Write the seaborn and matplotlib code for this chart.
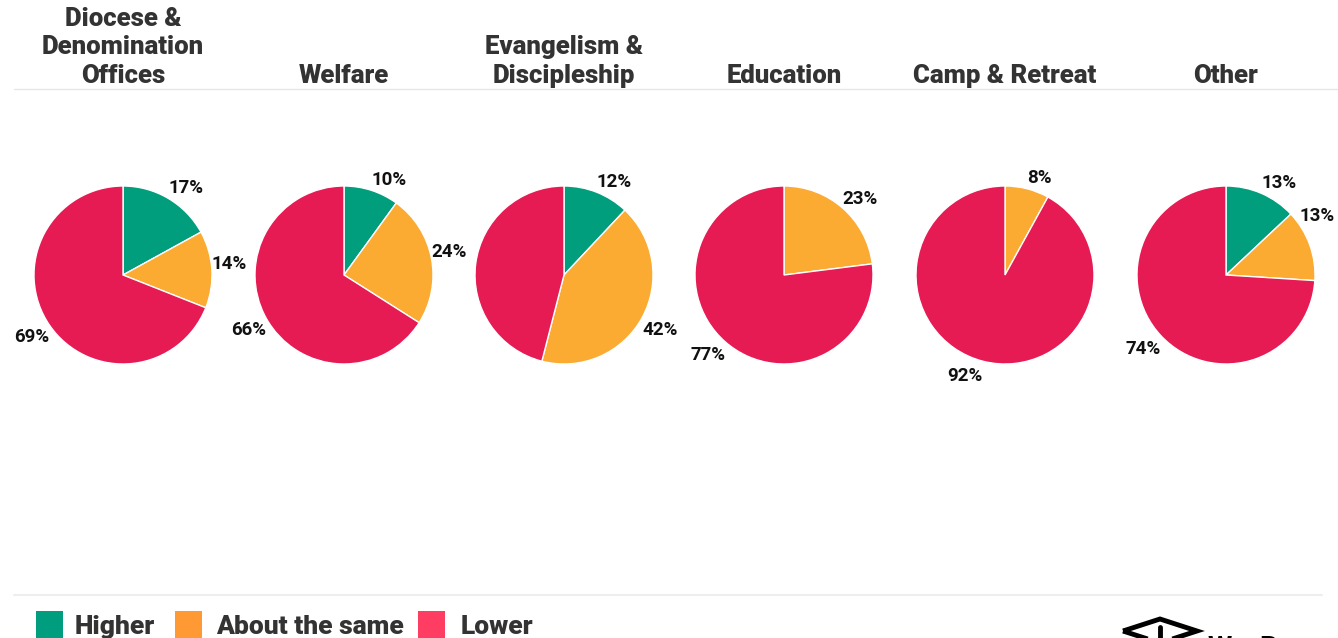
import numpy as np
import matplotlib.pyplot as plt
import matplotlib.patches as mpatches
from matplotlib.lines import Line2D
import seaborn as sns

# data
categories = ["Diocese &\nDenomination\nOffices", "Welfare", "Evangelism &\nDiscipleship",
              "Education", "Camp & Retreat", "Other"]
series = ["Higher", "About the same", "Lower"]
higher = [17, 10, 12, 0, 0, 13]
same = [14, 24, 42, 23, 8, 13]
lower = [69, 66, 46, 77, 92, 74]
# label that is not printed in the original (collides with neighbour)
hidden_labels = [("Evangelism &\nDiscipleship", "Lower")]

pie_colors = sns.color_palette(["#009E7C", "#FBAA32", "#E61B53"])
legend_colors = sns.color_palette(["#009E7E", "#FF9933", "#FF3D62"])

sns.set_theme(style="white")
plt.rcParams['font.family'] = ['Roboto', 'DejaVu Sans']

W, H = 1338, 638
fig = plt.figure(figsize=(W / 100, H / 100), dpi=100)
fig.patch.set_facecolor("white")
renderer = fig.canvas.get_renderer()


def px(x, y):
    return x / W, 1 - y / H


centers_x = [123, 344, 564, 784, 1005, 1226]
center_y = 275
radius_px = 89
half = 110
label_rx, label_ry = 89, 95  # anchor distance of the labels, pixels

for i, cat in enumerate(categories):
    cx = centers_x[i]
    ax = fig.add_axes([(cx - half) / W, (H - center_y - half) / H, 2 * half / W, 2 * half / H])
    vals = [higher[i], same[i], lower[i]]
    keep = [j for j, v in enumerate(vals) if v > 0]
    wedges, texts, autotexts = ax.pie(
        [vals[j] for j in keep],
        colors=[pie_colors[j] for j in keep],
        startangle=90, counterclock=False, radius=1,
        autopct=lambda p: f"{p:.0f}%", pctdistance=1.1,
        wedgeprops=dict(edgecolor="white", linewidth=1),
        textprops=dict(fontsize=13.5, fontweight="bold", color="#111111"),
    )
    lim = half / radius_px
    ax.set_xlim(-lim, lim)
    ax.set_ylim(-lim, lim)
    ax.axis("off")

    # anchor each label just outside the rim, text growing away from the pie;
    # turn it upwards if it would run off the right edge
    for w, t, j in zip(wedges, autotexts, keep):
        if (cat, series[j]) in hidden_labels:
            t.set_visible(False)
            continue
        tw = t.get_window_extent(renderer).width
        ang = np.deg2rad((w.theta1 + w.theta2) / 2)
        for _ in range(90):
            c, s = np.cos(ang), np.sin(ang)
            if c <= 0 or cx + label_rx * c + tw <= W - 3:
                break
            ang += np.deg2rad(1)
        t.set_position((label_rx * c / radius_px, label_ry * s / radius_px))
        t.set_ha("left" if c >= 0 else "right")
        t.set_va("baseline" if s >= 0 else "top")

    fig.text(*px(cx, 88), cat, ha="center", va="bottom", fontsize=18.5, fontweight=900,
             color="#333333", linespacing=1.25)

# separators
fig.add_artist(Line2D([14 / W, 1], [1 - 89 / H] * 2, color="#e6e6e6", lw=1))
fig.add_artist(Line2D([14 / W, 1322 / W], [1 - 595 / H] * 2, color="#eeeeee", lw=1.5))

# legend
sq_x = [36, 175, 418]
txt_x = [75, 216, 461]
for k, name in enumerate(series):
    x0, y0 = px(sq_x[k], 638)
    fig.add_artist(mpatches.Rectangle((x0, y0), 27 / W, 27 / H, transform=fig.transFigure,
                                      facecolor=legend_colors[k], edgecolor="none"))
    fig.text(*px(txt_x[k], 634), name, ha="left", va="baseline", fontsize=19,
             fontweight=900, color="#333333")

# logo, cut off at the bottom edge
logo = [px(1123, 631), px(1160, 619), px(1197, 631), px(1160, 643)]
fig.add_artist(mpatches.Polygon(logo, closed=True, transform=fig.transFigure,
                                facecolor="none", edgecolor="black", lw=3.5, joinstyle="miter"))
fig.add_artist(Line2D([1160 / W] * 2, [1 - 627 / H, 0], color="black", lw=3.5))
fig.text(*px(1208, 656), "WayBase", ha="left", va="baseline", fontsize=20,
         fontweight="bold", color="black")

fig.savefig("out.png", dpi=100)
